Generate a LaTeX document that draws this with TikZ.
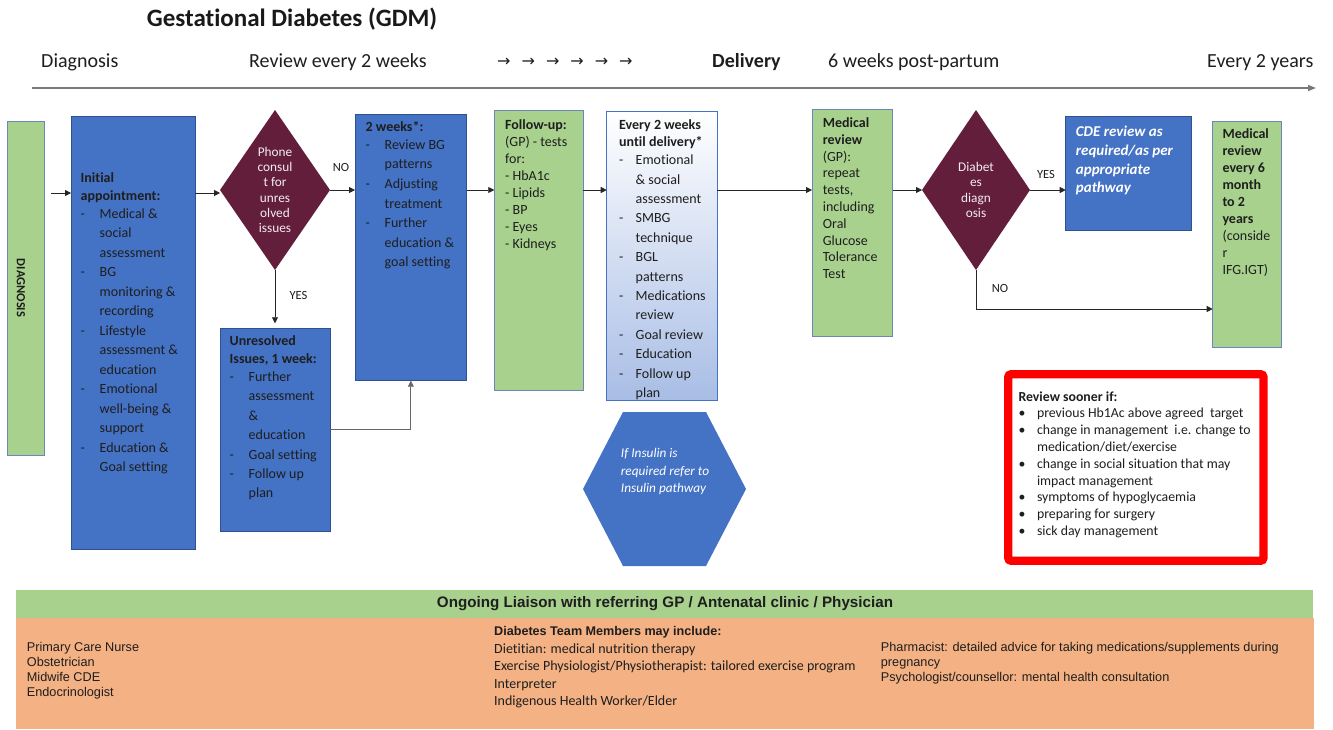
\documentclass[tikz,border=0pt]{standalone}
\usepackage{fontspec}
\setmainfont{Carlito}[Ligatures=NoCommon]
\newfontfamily\arialf{Liberation Sans}
\newfontfamily\djv{DejaVu Sans}
\usetikzlibrary{shapes.geometric,arrows.meta}
\definecolor{bfill}{HTML}{4472C4}
\definecolor{bedge}{HTML}{2F528F}
\definecolor{gfill}{HTML}{A9D18E}
\definecolor{gedge}{HTML}{6A87BD}
\definecolor{mar}{HTML}{631E3B}
\definecolor{ofill}{HTML}{F4B183}
\definecolor{dtxt}{HTML}{1E1E1E}
\definecolor{evlow}{HTML}{A8BDE5}
\definecolor{tline}{HTML}{7A7A7A}
\newcommand\ditem{\makebox[19pt][l]{-}}
\newcommand\dind{\hspace*{19pt}}
\newcommand\eitem{\makebox[16.5pt][l]{-}}
\newcommand\eind{\hspace*{16.5pt}}
\newcommand\bul{\makebox[18.5pt][l]{\textbullet}}
\newcommand\bind{\hspace*{18.5pt}}
\newcommand\fsz[2]{\fontsize{#1}{#2}\selectfont}
\begin{document}
\begin{tikzpicture}[x=1pt,y=-1pt,
  bbox/.style={draw=bedge,fill=bfill,line width=0.7pt,anchor=north west,inner sep=0pt,outer sep=0pt},
  gbox/.style={draw=gedge,fill=gfill,line width=0.7pt,anchor=north west,inner sep=0pt,outer sep=0pt},
  dmd/.style={diamond,fill=mar,draw=none,inner sep=0pt,outer sep=0pt,text=white!92!mar,align=center,font=\fsz{13.3}{15.3}},
  tx/.style={anchor=north west,inner sep=0pt,align=left,text=dtxt},
  arr/.style={-{Triangle[length=6pt,width=6pt]},line width=0.75pt,draw=black!85},
  lbl/.style={font=\fsz{12.5}{14},text=dtxt,inner sep=0pt},
  tl/.style={anchor=base west,inner sep=0pt,font=\fsz{20}{24},text=dtxt}]
\fill[white] (0,0) rectangle (1333,729);
\useasboundingbox (0,0) rectangle (1333,729);

% title and timeline
\node[font=\bfseries\fsz{25}{30},text=black!90,inner sep=0pt] (title) at (292,19) {Gestational Diabetes (GDM)};
\node[tl] (tD) at (41,67) {Diagnosis};
\node[tl] (tR) at (249,67) {Review every 2 weeks};
\node[tl,font=\djv\fsz{16}{18}] (tA) at (497,66.5) {→\hspace{11pt}→\hspace{11pt}→\hspace{11pt}→\hspace{11pt}→\hspace{11pt}→};
\node[tl,font=\bfseries\fsz{20}{24}] (tDel) at (712,67) {Delivery};
\node[tl] (t6) at (828,67) {6 weeks post-partum};
\node[tl] (t2) at (1207,67) {Every 2 years};
\coordinate (tl0) at (32,88);
\coordinate (tl1) at (1316,88);
\draw[tline,line width=1.6pt,-{Triangle[length=8pt,width=6pt]}] (tl0) -- (tl1);

% diagnosis
\node[gbox,minimum width=36.7pt,minimum height=334pt] (diag) at (7.3,121.7) {};
\node[font=\bfseries\fsz{12.5}{14},rotate=-90,text=dtxt,inner sep=0pt] (diagT) at (21,288) {DIAGNOSIS};

% initial appointment
\node[bbox,minimum width=124pt,minimum height=433pt] (init) at (71,116) {};
\node[tx,font=\fsz{14}{19.5}] (initT) at (80.5,172.3) {\textbf{Initial}\\[-1.5pt]\textbf{appointment:}\\[-1.5pt]\ditem Medical \&\\\dind social\\\dind assessment\\\ditem BG\\\dind monitoring \&\\\dind recording\\\ditem Lifestyle\\\dind assessment \&\\\dind education\\\ditem Emotional\\\dind well-being \&\\\dind support\\\ditem Education \&\\\dind Goal setting};

% phone consult diamond
\node[dmd,minimum width=110pt,minimum height=160pt,aspect=0.6875] (ph) at (275,190) {Phone\\consul\\t for\\unres\\olved\\issues};

% unresolved
\node[bbox,minimum width=109.3pt,minimum height=202.7pt] (unres) at (220.7,328.3) {};
\node[tx,font=\fsz{14}{19.4}] (unresT) at (229.5,335.4) {\textbf{Unresolved}\\[-1.1pt]\textbf{Issues, 1 week:}\\[-1.7pt]\ditem Further\\\dind assessment\\\dind \&\\\dind education\\\ditem Goal setting\\\ditem Follow up\\\dind plan};

% 2 weeks
\node[bbox,minimum width=111.7pt,minimum height=266.7pt] (tw) at (355,114) {};
\node[tx,font=\fsz{14}{19.6}] (twT) at (365.5,121.4) {\textbf{2 weeks*:}\\[-2pt]\ditem Review BG\\\dind patterns\\\ditem Adjusting\\\dind treatment\\\ditem Further\\\dind education \&\\\dind goal setting};

% follow-up
\node[gbox,minimum width=89pt,minimum height=280.7pt] (fu) at (494.3,110) {};
\node[tx,font=\fsz{14}{16.9}] (fuT) at (505,119.7) {\textbf{Follow-up:}\\(GP) - tests\\for:\\- HbA1c\\- Lipids\\- BP\\- Eyes\\- Kidneys};

% every 2 weeks
\node[anchor=north west,inner sep=0pt,outer sep=0pt,draw=bfill,line width=0.7pt,top color=white,bottom color=evlow,minimum width=110.6pt,minimum height=289.7pt] (ev) at (606.7,111) {};
\node[tx,font=\fsz{14}{19.4}] (evT) at (619,119) {\textbf{Every 2 weeks}\\[-2pt]\textbf{until delivery*}\\[-1.1pt]\eitem Emotional\\\eind \& social\\\eind assessment\\\eitem SMBG\\\eind technique\\\eitem BGL\\\eind patterns\\\eitem Medications\\\eind review\\\eitem Goal review\\\eitem Education\\\eitem Follow up\\\eind plan};

% insulin hexagon
\fill[bfill] (583,489) -- (623,412) -- (706,412) -- (746,489) -- (706,566) -- (623,566) -- cycle;
\node[tx,text=white,font=\itshape\fsz{13.3}{17.5}] (hexT) at (620.7,448.3) {If Insulin is\\required refer to\\Insulin pathway};

% medical review
\node[gbox,minimum width=80.7pt,minimum height=227pt] (mr) at (812,109) {};
\node[tx,font=\fsz{14}{16.8}] (mrT) at (822.7,117.4) {\textbf{Medical}\\\textbf{review}\\(GP):\\repeat\\tests,\\including\\Oral\\Glucose\\Tolerance\\Test};

% diabetes diagnosis diamond
\node[dmd,minimum width=108pt,minimum height=160pt,aspect=0.675] (d2) at (976,190) {Diabet\\es\\diagn\\osis};

% CDE review
\node[bbox,minimum width=125.3pt,minimum height=114pt] (cde) at (1065.7,116) {};
\node[tx,text=white,font=\bfseries\itshape\fsz{15}{18.7}] (cdeT) at (1075.7,126) {CDE review as\\required/as per\\appropriate\\pathway};

% medical review every 6 months
\node[gbox,minimum width=69pt,minimum height=225.6pt] (mr2) at (1212.7,121.7) {};
\node[tx,font=\fsz{14}{17}] (mr2T) at (1222.3,128.7) {\textbf{Medical}\\\textbf{review}\\\textbf{every 6}\\\textbf{month}\\\textbf{to 2}\\\textbf{years}\\(conside\\r\\IFG.IGT)};

% review sooner box
\node[draw=red,fill=white,line width=8.3pt,rounded corners=3pt,anchor=north west,inner sep=0pt,outer sep=0pt,minimum width=255.3pt,minimum height=186.6pt] (rs) at (1008.2,374.2) {};
\node[tx,font=\fsz{13.8}{16.8}] (rsT) at (1018.3,391.5) {\textbf{Review sooner if:}\\[-0.2pt]\bul previous Hb1Ac above agreed\ \ target\\\bul change in management\ \ i.e. change to\\\bind medication/diet/exercise\\\bul change in social situation that may\\\bind impact management\\\bul symptoms of hypoglycaemia\\\bul preparing for surgery\\\bul sick day management};

% bottom band
\node[anchor=north west,fill=gfill,minimum width=1297pt,minimum height=28.3pt,inner sep=0pt,outer sep=0pt] (bar) at (16,590) {};
\node[font=\arialf\bfseries\fsz{15.2}{18},text=dtxt,inner sep=0pt] (barT) at (665,603.5) {Ongoing Liaison with referring GP / Antenatal clinic / Physician};
\node[anchor=north west,fill=ofill,minimum width=1298pt,minimum height=111pt,inner sep=0pt,outer sep=0pt] (team) at (16,618.3) {};
\node[tx,font=\arialf\fsz{12.7}{15}] (teamL) at (26.7,642.1) {Primary Care Nurse\\Obstetrician\\Midwife CDE\\Endocrinologist};
\node[tx,font=\fsz{14}{17.5}] (teamM) at (494,626.2) {{\arialf\bfseries\fsz{12.6}{17.5}Diabetes Team Members may include:}\\Dietitian: medical nutrition therapy\\Exercise Physiologist/Physiotherapist: tailored exercise program\\Interpreter\\Indigenous Health Worker/Elder};
\node[tx,font=\arialf\fsz{12.7}{15}] (teamR) at (880.7,642.1) {Pharmacist: detailed advice for taking medications/supplements during\\pregnancy\\Psychologist/counsellor: mental health consultation};

% labels
\node[lbl] (noA) at (341,167) {NO};
\node[lbl] (yesA) at (298.5,295) {YES};
\node[lbl] (yesB) at (1046,174) {YES};
\node[lbl] (noB) at (1000,288) {NO};

% connectors
\coordinate (row1) at (0,193);
\coordinate (row) at (0,190);
\draw[arr,shorten <=7pt] (diag.east |- row1) -- (init.west |- row1);
\draw[arr] (init.east |- row1) -- (ph.west |- row1);
\draw[arr] (ph.east) -- (tw.west |- ph.east);
\draw[arr] (tw.east |- row) -- (fu.west |- row);
\draw[arr] (fu.east |- row) -- (ev.west |- row);
\draw[arr] (ev.east |- row) -- (mr.west |- row);
\draw[arr] (mr.east |- row) -- (d2.west);
\draw[arr] (d2.east) -- (cde.west |- d2.east);
\draw[arr,shorten >=5pt] (ph.south) -- (ph.south |- unres.north);
\draw[arr,draw=black!60] (unres.east) -| (tw.south);
\coordinate (nocorner) at (976,309);
\draw[arr] (d2.south) -- (nocorner) -- (nocorner -| mr2.west);
\end{tikzpicture}
\end{document}
